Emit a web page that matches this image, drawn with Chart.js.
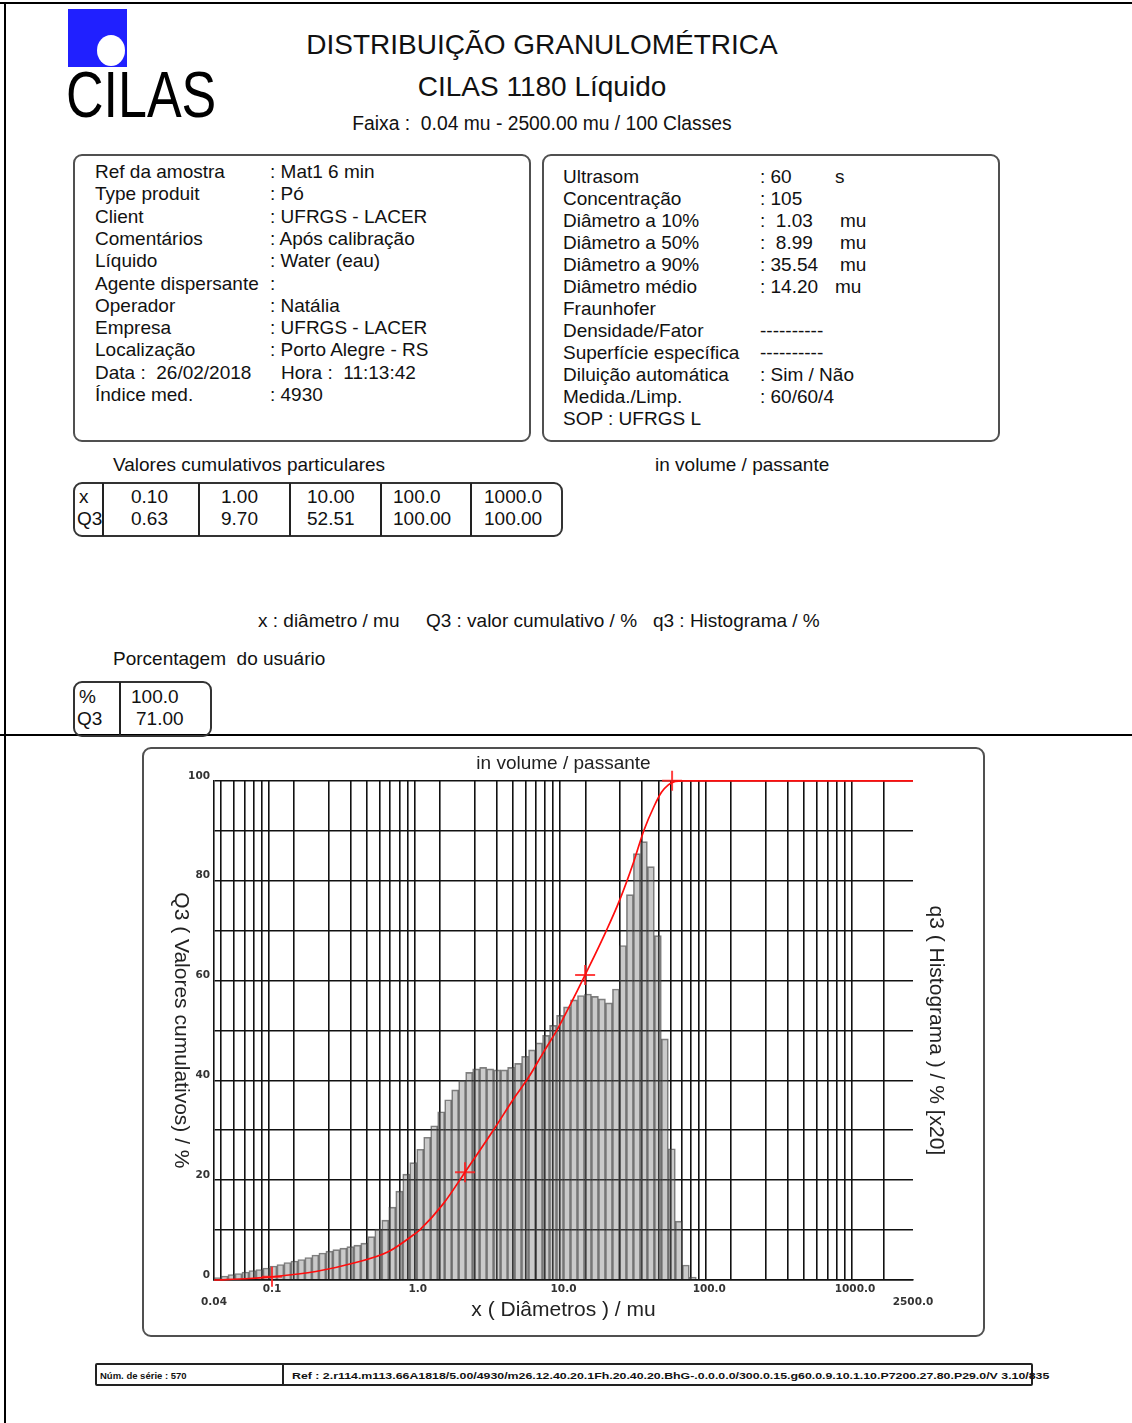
<!DOCTYPE html>
<html lang="pt">
<head>
<meta charset="utf-8">
<title>Distribuição granulométrica - CILAS 1180</title>
<script src="https://cdn.jsdelivr.net/npm/chart.js@4.4.1/dist/chart.umd.min.js"></script>
<style>
  html, body { margin: 0; padding: 0; background: #fff; }
  body { width: 1132px; height: 1423px; position: relative; overflow: hidden;
         font-family: "Liberation Sans", Arial, sans-serif; color: #111; }
  .t { position: absolute; white-space: pre; font-size: 19px; line-height: 22px; height: 22px; }
  .c { text-align: center; left: 0; width: 1084px; }
  .line { position: absolute; background: #000; }
  .box { position: absolute; box-sizing: border-box; border: 2px solid #505050; border-radius: 9px; }
  .vr { position: absolute; width: 2px; background: #222; }
  #chartBox { left: 142px; top: 747px; width: 843px; height: 590px; }
  #c { position: absolute; left: 142px; top: 747px; }
</style>
</head>
<body>

<!-- page frame -->
<div class="line" style="left:0;top:2px;width:1132px;height:2px"></div>
<div class="line" style="left:4px;top:2px;width:2px;height:1421px"></div>
<div class="line" style="left:0;top:734px;width:1132px;height:2px"></div>

<!-- logo -->
<div style="position:absolute;left:68px;top:9px;width:59px;height:58px;background:#2020ff"></div>
<div style="position:absolute;left:97px;top:35px;width:28px;height:31px;border-radius:50%;background:#fff"></div>
<div style="position:absolute;left:66px;top:62px;font-size:65px;line-height:65px;transform:scaleX(0.8);transform-origin:0 0;color:#000">CILAS</div>

<!-- header -->
<div class="t c" style="top:28px;font-size:28px;line-height:34px;height:34px">DISTRIBUIÇÃO GRANULOMÉTRICA</div>
<div class="t c" style="top:70px;font-size:28px;line-height:34px;height:34px">CILAS 1180 Líquido</div>
<div class="t c" style="top:113px;font-size:19.3px">Faixa :  0.04 mu - 2500.00 mu / 100 Classes</div>

<!-- info boxes -->
<div class="box" style="left:73px;top:154px;width:458px;height:288px"></div>
<div class="box" style="left:542px;top:154px;width:458px;height:288px"></div>

<!-- cumulative table -->
<div class="box" style="left:73px;top:482px;width:490px;height:55px;border-color:#333"></div>
<div class="vr" style="left:102px;top:483px;height:53px"></div>
<div class="vr" style="left:198px;top:483px;height:53px"></div>
<div class="vr" style="left:289px;top:483px;height:53px"></div>
<div class="vr" style="left:380px;top:483px;height:53px"></div>
<div class="vr" style="left:470px;top:483px;height:53px"></div>

<!-- user percentage table -->
<div class="box" style="left:73px;top:681px;width:139px;height:56px;border-color:#333"></div>
<div class="vr" style="left:119px;top:682px;height:53px"></div>

<!-- chart box -->
<div class="box" id="chartBox"></div>
<canvas id="c" width="843" height="590"></canvas>

<!-- footer -->
<div class="box" style="left:95px;top:1363px;width:938px;height:23px;border:2px solid #222;border-radius:2px"></div>
<div class="vr" style="left:282px;top:1364px;height:21px"></div>
<div class="t" style="left:100px;top:1369px;font-size:9.5px;line-height:14px;height:14px;font-weight:bold">Núm. de série : 570</div>
<div class="t" id="refLine" style="left:292px;top:1369px;font-size:9.5px;line-height:14px;height:14px;font-weight:bold;transform-origin:0 0">Ref : 2.r114.m113.66A1818/5.00/4930/m26.12.40.20.1Fh.20.40.20.BhG-.0.0.0.0/300.0.15.g60.0.9.10.1.10.P7200.27.80.P29.0/V 3.10/835</div>

<script>
// text blocks of the report page
const LEFT_LABELS = ['Ref da amostra', 'Type produit', 'Client', 'Comentários', 'Líquido',
  'Agente dispersante', 'Operador', 'Empresa', 'Localização', 'Data :  26/02/2018', 'Índice med.'];
const LEFT_VALUES = [': Mat1 6 min', ': Pó', ': UFRGS - LACER', ': Após calibração', ': Water (eau)',
  ':', ': Natália', ': UFRGS - LACER', ': Porto Alegre - RS', ' Hora :  11:13:42', ': 4930'];

const RIGHT_LABELS = ['Ultrasom', 'Concentração', 'Diâmetro a 10%', 'Diâmetro a 50%', 'Diâmetro a 90%',
  'Diâmetro médio', 'Fraunhofer', 'Densidade/Fator', 'Superfície específica', 'Diluição automática',
  'Medida./Limp.', 'SOP : UFRGS L'];
const RIGHT_VALUES = [': 60', ': 105', ':  1.03', ':  8.99', ': 35.54', ': 14.20', '',
  '----------', '----------', ': Sim / Não', ': 60/60/4', ''];
const RIGHT_UNITS = ['s', '', 'mu', 'mu', 'mu', 'mu', '', '', '', '', '', ''];

const CUM_X = ['0.10', '1.00', '10.00', '100.0', '1000.0'];
const CUM_Q3 = ['0.63', '9.70', '52.51', '100.00', '100.00'];
const CUM_COL_X = [131, 221, 307, 393, 484];

// chart data
const RANGE_MIN = 0.04, RANGE_MAX = 2500, N_CLASSES = 100;
// q3 histogram (x20), one value per class from 0.04 mu upward
const Q3_HIST = [
  0.5, 0.8, 1.1, 1.3, 1.6, 1.9, 2.1, 2.4, 2.8, 3.1,
  3.5, 3.8, 4.1, 4.5, 5.0, 5.4, 5.8, 6.1, 6.4, 6.7,
  7.0, 7.4, 8.7, 10.2, 12.0, 14.6, 17.8, 21.2, 23.5, 26.2,
  28.6, 30.9, 33.7, 36.1, 38.1, 40.0, 41.6, 42.3, 42.6, 42.3,
  42.1, 42.1, 42.6, 43.4, 44.8, 46.1, 47.5, 49.0, 51.0, 53.0,
  54.7, 56.1, 57.0, 57.3, 56.8, 56.3, 55.5, 58.3, 67.0, 77.2,
  85.4, 87.8, 82.8, 69.0, 48.3, 26.3, 11.8, 3.0, 0.6
];
// Q3 cumulative curve (passing %)
const CURVE_X  = [0.04, 0.07, 0.1, 0.2, 0.364, 0.632, 1.0, 1.03, 1.5, 2.11, 3.3, 4.6, 5.76, 7.18, 8.99, 10.0,
  12.47, 14.07, 19.4, 24.2, 30.17, 35.54, 42.0, 47.0, 52.4, 58.5, 65.0, 2500];
const CURVE_Q3 = [0.0, 0.3, 0.63, 1.7, 3.4, 5.7, 9.7, 10.0, 15.3, 21.6, 30.0, 36.5, 40.6, 45.3, 50.0, 52.51,
  58.0, 61.1, 69.6, 76.0, 83.6, 90.0, 95.0, 97.7, 99.2, 99.9, 100, 100];
// red cross markers
const MARK_X  = [0.1, 2.11, 14.07, 55.6];
const MARK_Q3 = [0.63, 21.6, 61.1, 100];

// axes
const GRID_X = [0.04, 0.05, 0.06, 0.07, 0.08, 0.09, 0.1, 0.2, 0.3, 0.4, 0.5, 0.6, 0.7, 0.8, 0.9,
  1, 2, 3, 4, 5, 6, 7, 8, 9, 10, 20, 30, 40, 50, 60, 70, 80, 90,
  100, 200, 300, 400, 500, 600, 700, 800, 900, 1000, 2500];
const X_LABEL_AT = [0.1, 1, 10, 100, 1000];
const X_LABELS = ['0.1', '1.0', '10.0', '100.0', '1000.0'];
const X_END_AT = [0.04, 2500];
const X_END_LABELS = ['0.04', '2500.0'];
const Y_LABEL_AT = [0, 20, 40, 60, 80, 100];
const Y_LABELS = ['0', '20', '40', '60', '80', '100'];

const CHART_TITLE = 'in volume / passante';
const X_TITLE = 'x ( Diâmetros ) / mu';
const Y_TITLE = 'Q3 ( Valores cumulativos) / %';
const Y2_TITLE = 'q3 ( Histograma ) / % [x20]';

// helpers
function put(text, x, cy, extra) {
  const d = document.createElement('div');
  d.className = 't';
  d.textContent = text;
  d.style.left = x + 'px';
  d.style.top = (cy - 11) + 'px';
  if (extra) Object.assign(d.style, extra);
  document.body.appendChild(d);
  return d;
}

function buildText() {
  LEFT_LABELS.forEach((s, i) => {
    const cy = 172 + i * 22.3;
    put(s, 95, cy);
    if (i === 9) put(LEFT_VALUES[i].trim(), 281, cy);
    else put(LEFT_VALUES[i], 270, cy);
  });
  RIGHT_LABELS.forEach((s, i) => {
    const cy = 177 + i * 22;
    put(s, 563, cy);
    if (RIGHT_VALUES[i]) put(RIGHT_VALUES[i], 760, cy);
    if (RIGHT_UNITS[i]) put(RIGHT_UNITS[i], i === 5 || i === 0 ? 835 : 840, cy);
  });

  put('Valores cumulativos particulares', 113, 465);
  put('in volume / passante', 655, 465);
  put('x', 79, 497);
  put('Q3', 77, 519);
  CUM_X.forEach((s, i) => { put(s, CUM_COL_X[i], 497); put(CUM_Q3[i], CUM_COL_X[i], 519); });

  put('x : diâmetro / mu     Q3 : valor cumulativo / %   q3 : Histograma / %', 258, 621);
  put('Porcentagem  do usuário', 113, 659);
  put('%', 79, 697);
  put('Q3', 77, 719);
  put('100.0', 131, 697);
  put('71.00', 136, 719);
}

function classCenter(i) {
  const lo = Math.log10(RANGE_MIN);
  const step = (Math.log10(RANGE_MAX) - lo) / N_CLASSES;
  return Math.pow(10, lo + (i + 0.5) * step);
}

function findLabel(v, at, labels) {
  for (let i = 0; i < at.length; i++) {
    if (Math.abs(v - at[i]) / at[i] < 1e-6) return labels[i];
  }
  return null;
}

// left axis title reads top to bottom, chart.js would rotate it the other way
const leftTitle = {
  id: 'leftTitle',
  afterDraw(chart) {
    const { ctx, chartArea } = chart;
    ctx.save();
    ctx.translate(39, (chartArea.top + chartArea.bottom) / 2);
    ctx.rotate(Math.PI / 2);
    ctx.font = '21px "Liberation Sans", Arial, sans-serif';
    ctx.fillStyle = '#222';
    ctx.textAlign = 'center';
    ctx.textBaseline = 'middle';
    ctx.fillText(Y_TITLE, 0, 0);
    ctx.restore();
  }
};

function buildChart() {
  const tickFont = { family: '"DejaVu Sans", Verdana, sans-serif', size: 10.5, weight: 'bold' };
  const titleFont = { family: '"Liberation Sans", Arial, sans-serif', size: 21 };

  const histData = Q3_HIST.map((h, i) => ({ x: classCenter(i), y: h }));
  const curveData = CURVE_X.map((x, i) => ({ x, y: CURVE_Q3[i] }));
  const markData = MARK_X.map((x, i) => ({ x, y: MARK_Q3[i] }));

  new Chart(document.getElementById('c'), {
    type: 'bar',
    data: {
      datasets: [
        {
          type: 'line', data: curveData, order: 0,
          borderColor: '#ff0d0d', borderWidth: 1.7, pointRadius: 0,
          cubicInterpolationMode: 'monotone', clip: 4
        },
        {
          type: 'scatter', data: markData, order: 1,
          pointStyle: 'cross', pointRadius: 10, borderColor: 'rgba(255,30,30,0.85)', borderWidth: 2, clip: 12
        },
        {
          type: 'bar', data: histData, order: 2,
          backgroundColor: 'rgba(115,115,115,0.38)', borderColor: 'rgba(60,60,60,0.65)', borderWidth: 1,
          barThickness: 'flex', categoryPercentage: 1, barPercentage: 1
        }
      ]
    },
    options: {
      responsive: false,
      animation: false,
      devicePixelRatio: 1,
      layout: { padding: 0 },
      plugins: {
        legend: { display: false },
        tooltip: { enabled: false },
        title: {
          display: true, text: CHART_TITLE, color: '#222',
          font: { family: '"Liberation Sans", Arial, sans-serif', size: 19, weight: 'normal' },
          padding: { top: 5, bottom: 6 }
        }
      },
      scales: {
        x: {
          type: 'logarithmic', min: RANGE_MIN, max: RANGE_MAX,
          afterBuildTicks: s => { s.ticks = GRID_X.map(v => ({ value: v })); },
          afterFit: s => { s.height = 57; },
          grid: { color: '#111', lineWidth: 1.6, drawTicks: false },
          border: { color: '#111', width: 1.6 },
          ticks: {
            autoSkip: false, maxRotation: 0, minRotation: 0, padding: 3, color: '#333', font: tickFont,
            callback: v => {
              const a = findLabel(v, X_LABEL_AT, X_LABELS);
              if (a) return a;
              const b = findLabel(v, X_END_AT, X_END_LABELS);
              if (b) return ['', b];
              return '';
            }
          },
          title: { display: true, text: X_TITLE, color: '#222', font: titleFont, padding: { top: 0, bottom: 14 } }
        },
        y: {
          min: 0, max: 100,
          afterFit: s => { s.width = 72; },
          grid: { color: '#111', lineWidth: 1.6, drawTicks: false },
          border: { color: '#111', width: 1.6 },
          ticks: {
            stepSize: 10, autoSkip: false, padding: 4, labelOffset: -5, color: '#333', font: tickFont,
            callback: v => findLabel(v, Y_LABEL_AT, Y_LABELS) || (v === 0 ? '0' : '')
          }
        },
        y2: {
          position: 'right', min: 0, max: 100,
          afterFit: s => { s.width = 72; },
          grid: { display: false },
          border: { display: false },
          ticks: { display: false },
          title: { display: true, text: Y2_TITLE, color: '#222', font: titleFont, padding: { top: 37, bottom: 0 } }
        }
      }
    },
    plugins: [leftTitle]
  });
}

buildText();
buildChart();

// fit the long reference line to its printed length
const ref = document.getElementById('refLine');
ref.style.transform = 'scaleX(' + (758 / ref.offsetWidth).toFixed(3) + ')';
</script>
</body>
</html>
